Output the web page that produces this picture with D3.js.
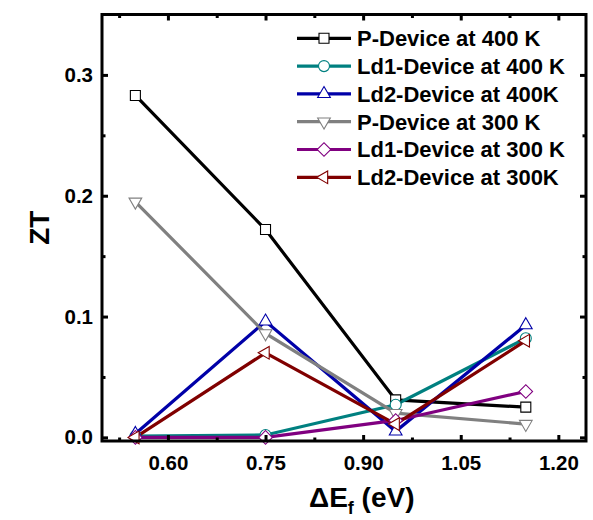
<!DOCTYPE html>
<html>
<head>
<meta charset="utf-8">
<script src="https://cdn.jsdelivr.net/npm/d3@7"></script>
<style>
  html, body { margin: 0; padding: 0; background: #fff; }
  svg { display: block; }
  text { font-family: "Liberation Sans", Arial, sans-serif; font-weight: bold; fill: #000; }
</style>
</head>
<body>
<svg id="chart" width="593" height="520"></svg>
<script>
// ---- data ----
const deltaEf = [0.55, 0.75, 0.95, 1.15];
const seriesNames = [
  "P-Device at 400 K",
  "Ld1-Device at 400 K",
  "Ld2-Device at 400K",
  "P-Device at 300 K",
  "Ld1-Device at 300 K",
  "Ld2-Device at 300K"
];
const pDevice400   = [0.283, 0.172, 0.031, 0.025];
const ld1Device400 = [0.001, 0.002, 0.027, 0.082];
const ld2Device400 = [0.003, 0.096, 0.005, 0.093];
const pDevice300   = [0.195, 0.086, 0.020, 0.011];
const ld1Device300 = [0.000, 0.000, 0.014, 0.038];
const ld2Device300 = [0.000, 0.070, 0.011, 0.080];
const seriesValues = [pDevice400, ld1Device400, ld2Device400, pDevice300, ld1Device300, ld2Device300];
const seriesColors = ["#000000", "#008080", "#0000a8", "#808080", "#800080", "#800000"];
const seriesMarkers = ["square", "circle", "triUp", "triDown", "diamond", "triLeft"];

const xMajorTicks = [0.60, 0.75, 0.90, 1.05, 1.20];
const xMinorTicks = [0.525, 0.675, 0.825, 0.975, 1.125];
const yMajorTicks = [0.0, 0.1, 0.2, 0.3];
const yMinorTicks = [0.05, 0.15, 0.25];

// ---- layout ----
const svg = d3.select("#chart");
const L = 102, R = 586, T = 14.5, B = 441;
const x = d3.scaleLinear().domain([0.4987, 1.2425]).range([L, R]);
const y = d3.scaleLinear().domain([-0.003, 0.35]).range([B, T]);

// marker generator
function markerPath(kind) {
  switch (kind) {
    case "square": return d3.symbol(d3.symbolSquare, 100)();
    case "circle": return d3.symbol(d3.symbolCircle, 95)();
    case "diamond": return d3.symbol(d3.symbolSquare, 92)();
    default: return d3.symbol(d3.symbolTriangle, 70)();
  }
}
function markerRot(kind) {
  return { diamond: 45, triDown: 180, triLeft: -90 }[kind] || 0;
}

// ---- series lines & markers ----
const line = d3.line().x((d, i) => x(deltaEf[i])).y(d => y(d));
const plot = svg.append("g");
seriesValues.forEach((vals, si) => {
  plot.append("path")
    .attr("d", line(vals))
    .attr("fill", "none")
    .attr("stroke", seriesColors[si])
    .attr("stroke-width", 3.2)
    .attr("stroke-linejoin", "miter");
});
seriesValues.forEach((vals, si) => {
  plot.selectAll(null).data(vals).enter().append("path")
    .attr("d", markerPath(seriesMarkers[si]))
    .attr("transform", (d, i) => `translate(${x(deltaEf[i])},${y(d)}) rotate(${markerRot(seriesMarkers[si])})`)
    .attr("fill", "#fff")
    .attr("stroke", seriesColors[si])
    .attr("stroke-width", 1.1);
});

// ---- axes (ticks inward on all sides) ----
function styleAxis(g) {
  g.select(".domain").remove();
  g.selectAll(".tick line").attr("stroke", "#000").attr("stroke-width", 3);
  g.selectAll(".tick text").style("font-size", "20.5px").style("font-family", "Liberation Sans, Arial, sans-serif").style("font-weight", "bold");
}
const fmtX = d3.format(".2f"), fmtY = d3.format(".1f");
svg.append("g").attr("transform", `translate(0,${B})`)
  .call(d3.axisBottom(x).tickValues(xMajorTicks).tickSize(-6).tickPadding(14).tickFormat(fmtX)).call(styleAxis);
svg.append("g").attr("transform", `translate(0,${B})`)
  .call(d3.axisBottom(x).tickValues(xMinorTicks).tickSize(-3.5).tickFormat("")).call(styleAxis);
svg.append("g").attr("transform", `translate(0,${T})`)
  .call(d3.axisTop(x).tickValues(xMajorTicks).tickSize(-6).tickFormat("")).call(styleAxis);
svg.append("g").attr("transform", `translate(0,${T})`)
  .call(d3.axisTop(x).tickValues(xMinorTicks).tickSize(-3.5).tickFormat("")).call(styleAxis);
svg.append("g").attr("transform", `translate(${L},0)`)
  .call(d3.axisLeft(y).tickValues(yMajorTicks).tickSize(-6).tickPadding(9).tickFormat(fmtY)).call(styleAxis);
svg.append("g").attr("transform", `translate(${L},0)`)
  .call(d3.axisLeft(y).tickValues(yMinorTicks).tickSize(-3.5).tickFormat("")).call(styleAxis);
svg.append("g").attr("transform", `translate(${R},0)`)
  .call(d3.axisRight(y).tickValues(yMajorTicks).tickSize(-6).tickFormat("")).call(styleAxis);
svg.append("g").attr("transform", `translate(${R},0)`)
  .call(d3.axisRight(y).tickValues(yMinorTicks).tickSize(-3.5).tickFormat("")).call(styleAxis);

svg.append("rect")
  .attr("x", L).attr("y", T).attr("width", R - L).attr("height", B - T)
  .attr("fill", "none").attr("stroke", "#000").attr("stroke-width", 3);

// ---- axis titles ----
svg.append("text")
  .attr("transform", `translate(49,${(T + B) / 2}) rotate(-90)`)
  .attr("text-anchor", "middle")
  .style("font-size", "28px")
  .text("ZT");

const xt = svg.append("text")
  .attr("x", 309).attr("y", 507)
  .style("font-size", "28px");
xt.append("tspan").text("\u0394E");
xt.append("tspan").attr("dy", 7).style("font-size", "18px").text("f");
xt.append("tspan").attr("dy", -7).text(" (eV)");

// ---- legend ----
const legend = svg.append("g");
const legY0 = 38.3, legDy = 27.8;
seriesNames.forEach((name, i) => {
  const yy = legY0 + i * legDy;
  legend.append("line")
    .attr("x1", 297).attr("x2", 351).attr("y1", yy).attr("y2", yy)
    .attr("stroke", seriesColors[i]).attr("stroke-width", 3.2);
  legend.append("path")
    .attr("d", markerPath(seriesMarkers[i]))
    .attr("transform", `translate(324,${yy}) rotate(${markerRot(seriesMarkers[i])})`)
    .attr("fill", "#fff").attr("stroke", seriesColors[i]).attr("stroke-width", 1.1);
  legend.append("text")
    .attr("x", 357).attr("y", yy).attr("dy", "0.36em")
    .style("font-size", "22px")
    .text(name);
});
</script>
</body>
</html>
